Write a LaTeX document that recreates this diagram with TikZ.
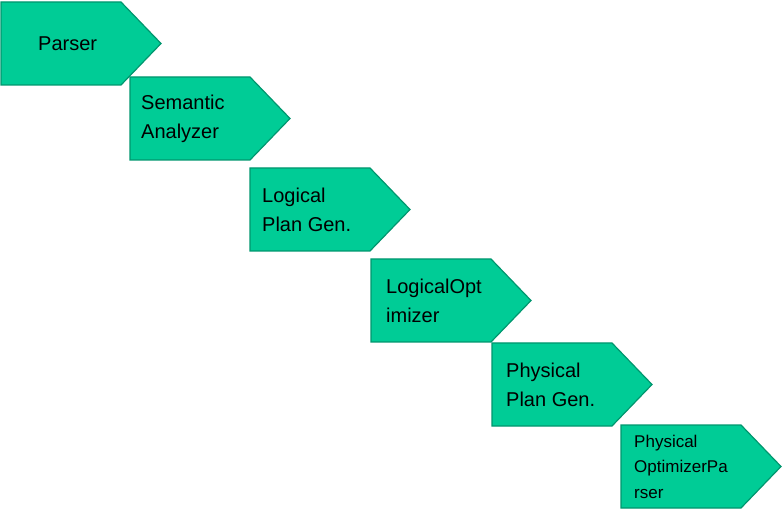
\documentclass[tikz,border=0pt]{standalone}
\usepackage{fontspec}
\setmainfont{Liberation Sans}
\begin{document}
\begin{tikzpicture}[x=1pt,y=-1pt,
  arr/.style={fill=fillc,draw=edgec,line width=1.2pt,line join=miter},
  lbl/.style={anchor=west,align=left,font=\fontsize{20}{29}\selectfont,inner sep=0pt}]
\definecolor{fillc}{RGB}{0,204,150}
\definecolor{edgec}{RGB}{0,150,110}
\useasboundingbox (0,0) rectangle (784,510);
\newcommand{\hp}[2]{\draw[arr] (#1,#2) -- ++(120,0) -- ++(40,41.5) -- ++(-40,41.5) -- ++(-120,0) -- cycle;}
\hp{1}{2}\hp{130}{77}\hp{250}{168}\hp{371}{259}\hp{492}{343}\hp{621}{425}
\node[lbl] (p) at (38,43.5) {Parser};
\node[lbl] (s) at (141,118.5) {Semantic\\Analyzer};
\node[lbl] (l) at (262,209.5) {Logical\\Plan Gen.};
\node[lbl] (o) at (386,300.5) {LogicalOpt\\imizer};
\node[lbl] (g) at (506,384.5) {Physical\\Plan Gen.};
\node[lbl,font=\fontsize{17}{25.5}\selectfont] (x) at (634,466.5) {Physical\\OptimizerPa\\rser};
\end{tikzpicture}
\end{document}
